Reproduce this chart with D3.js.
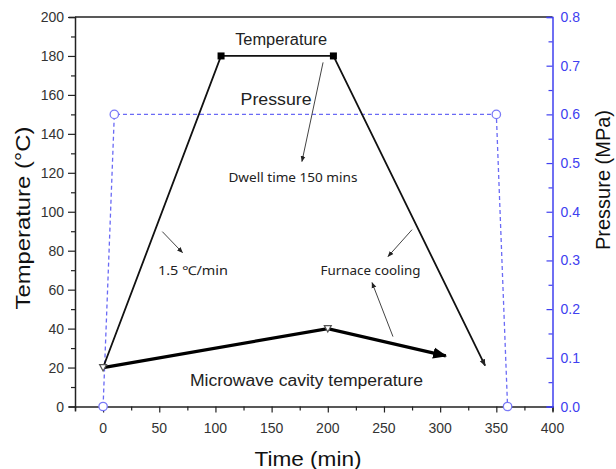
<!DOCTYPE html>
<html>
<head>
<meta charset="utf-8">
<script src="https://cdn.jsdelivr.net/npm/d3@7"></script>
<style>
  body { margin: 0; background: #fff; }
  svg { display: block; font-family: "Liberation Sans", Arial, sans-serif; }
</style>
</head>
<body>
<div id="chart"></div>
<script>
// time (min) / temperature (°C) for the furnace profile
const tempTime = [0, 105, 205, 340];
const tempValue = [20, 180, 180, 21];
const tempMarked = [false, true, true, false];

// pressure profile (MPa)
const pressTime = [0, 10, 350, 360];
const pressValue = [0, 0.6, 0.6, 0];

// microwave cavity temperature
const cavityTime = [0, 200, 305];
const cavityValue = [20, 40, 26];
const cavityMarked = [true, true, false];

const xTicks = [0, 50, 100, 150, 200, 250, 300, 350, 400];
const yLeftTicks = [0, 20, 40, 60, 80, 100, 120, 140, 160, 180, 200];
const yRightTicks = [0, 0.1, 0.2, 0.3, 0.4, 0.5, 0.6, 0.7, 0.8];

// labels placed in data units (time, temperature)
const labels = [
  { text: "Temperature", t: 158.5, v: 185.5, kind: "big", len: 92 },
  { text: "Pressure", t: 154, v: 155, kind: "big", len: 71 },
  { text: "Microwave cavity temperature", t: 181, v: 10.6, kind: "big", len: 233 },
  { text: "Dwell time 150 mins", t: 169, v: 115.4, kind: "small", len: 129 },
  { text: "1.5 \u2103/min", t: 80, v: 67.7, kind: "small", len: 70 },
  { text: "Furnace cooling", t: 238, v: 67.7, kind: "small", len: 100 }
];
// thin pointer arrows: [from time, from temp, to time, to temp]
const pointers = [
  [195.8, 176.7, 177, 125.8],
  [52.7, 89.8, 70.7, 79],
  [275, 90.8, 253.6, 77],
  [258, 35.9, 239.4, 63.6]
];

const width = 616;
const height = 469;
const blue = "#4040f0";

const x = d3.scaleLinear().domain([-25, 400]).range([75, 552.5]);
const yL = d3.scaleLinear().domain([0, 200]).range([406.5, 17]);
const yR = d3.scaleLinear().domain([0, 0.8]).range([406.5, 17]);

const svg = d3.select("#chart").append("svg")
  .attr("width", width)
  .attr("height", height);

const defs = svg.append("defs");
function arrowDef(id, size, color) {
  defs.append("marker")
    .attr("id", id)
    .attr("viewBox", "0 -5 10 10")
    .attr("refX", 9)
    .attr("refY", 0)
    .attr("markerUnits", "userSpaceOnUse")
    .attr("markerWidth", size)
    .attr("markerHeight", size)
    .attr("orient", "auto")
    .append("path")
      .attr("d", "M0,-4L10,0L0,4Z")
      .attr("fill", color);
}
arrowDef("headBig", 14, "#000");
arrowDef("headMid", 7, "#222");
arrowDef("headSmall", 6, "#222");

// top frame line
svg.append("line")
  .attr("x1", x.range()[0]).attr("x2", x.range()[1])
  .attr("y1", yL.range()[1]).attr("y2", yL.range()[1])
  .attr("stroke", "#222").attr("stroke-width", 1.5);

// x axis
const xAxis = svg.append("g")
  .attr("transform", `translate(0,${yL(0)})`)
  .call(d3.axisBottom(x).tickValues(d3.range(-25, 401, 25)).tickSize(5).tickFormat(""));
xAxis.call(g => g.select(".domain").attr("stroke", "#222").attr("stroke-width", 1.5));
xAxis.selectAll(".tick line").attr("stroke", "#222").attr("stroke-width", 1.2)
  .attr("y2", d => xTicks.includes(d) ? 6 : 4);
svg.append("g").selectAll("text")
  .data(xTicks)
  .join("text")
    .attr("x", d => x(d))
    .attr("y", yL(0) + 26)
    .attr("text-anchor", "middle")
    .attr("font-size", 14)
    .attr("fill", "#333")
    .text(d => d);

// left axis
const yAxisL = svg.append("g")
  .attr("transform", `translate(${x(-25)},0)`)
  .call(d3.axisLeft(yL).tickValues(d3.range(0, 201, 10)).tickSize(6).tickFormat(""));
yAxisL.call(g => g.select(".domain").attr("stroke", "#222").attr("stroke-width", 1.5));
yAxisL.selectAll(".tick line").attr("stroke", "#222").attr("stroke-width", 1.2)
  .attr("x2", d => yLeftTicks.includes(d) ? -7 : -4);
svg.append("g").selectAll("text")
  .data(yLeftTicks)
  .join("text")
    .attr("x", x(-25) - 11)
    .attr("y", d => yL(d) + 5)
    .attr("text-anchor", "end")
    .attr("font-size", 14)
    .attr("fill", "#333")
    .text(d => d);

// right axis (ticks point inward)
const yAxisR = svg.append("g")
  .attr("transform", `translate(${x(400)},0)`)
  .call(d3.axisLeft(yR).tickValues(d3.range(0, 17).map(i => i * 0.05)).tickSize(6).tickFormat(""));
yAxisR.call(g => g.select(".domain").attr("stroke", blue).attr("stroke-width", 1.5));
yAxisR.selectAll(".tick line").attr("stroke", blue).attr("stroke-width", 1.2)
  .attr("x2", (d, i) => i % 2 === 0 ? -6 : -4);
svg.append("g").selectAll("text")
  .data(yRightTicks)
  .join("text")
    .attr("x", x(400) + 8)
    .attr("y", d => yR(d) + 5)
    .attr("font-size", 14)
    .attr("fill", blue)
    .text(d => d.toFixed(1));

// axis titles
svg.append("text")
  .attr("x", 308).attr("y", 466)
  .attr("text-anchor", "middle")
  .attr("font-size", 21)
  .attr("fill", "#111")
  .attr("textLength", 107).attr("lengthAdjust", "spacingAndGlyphs")
  .text("Time (min)");
svg.append("text")
  .attr("transform", `translate(30,${218}) rotate(-90)`)
  .attr("text-anchor", "middle")
  .attr("font-size", 21)
  .attr("fill", "#111")
  .attr("textLength", 183).attr("lengthAdjust", "spacingAndGlyphs")
  .text("Temperature (\u00B0C)");
svg.append("text")
  .attr("transform", `translate(610,${180}) rotate(-90)`)
  .attr("text-anchor", "middle")
  .attr("font-size", 20)
  .attr("fill", "#111")
  .attr("textLength", 140).attr("lengthAdjust", "spacingAndGlyphs")
  .text("Pressure (MPa)");

// pressure line
const pressData = pressTime.map((t, i) => ({ t, v: pressValue[i] }));
svg.append("path")
  .datum(pressData)
  .attr("fill", "none")
  .attr("stroke", "#6a6af5")
  .attr("stroke-width", 1.3)
  .attr("stroke-dasharray", "4,3")
  .attr("d", d3.line().x(d => x(d.t)).y(d => yR(d.v)));

// temperature line
const tempData = tempTime.map((t, i) => ({ t, v: tempValue[i], m: tempMarked[i] }));
svg.append("path")
  .datum(tempData)
  .attr("fill", "none")
  .attr("stroke", "#111")
  .attr("stroke-width", 1.8)
  .attr("marker-end", "url(#headMid)")
  .attr("d", d3.line().x(d => x(d.t)).y(d => yL(d.v)));
svg.append("g").selectAll("rect")
  .data(tempData.filter(d => d.m))
  .join("rect")
    .attr("x", d => x(d.t) - 3.5)
    .attr("y", d => yL(d.v) - 3.5)
    .attr("width", 7)
    .attr("height", 7)
    .attr("fill", "#000");

// microwave cavity line
const cavityData = cavityTime.map((t, i) => ({ t, v: cavityValue[i], m: cavityMarked[i] }));
svg.append("path")
  .datum(cavityData)
  .attr("fill", "none")
  .attr("stroke", "#000")
  .attr("stroke-width", 3.2)
  .attr("marker-end", "url(#headBig)")
  .attr("d", d3.line().x(d => x(d.t)).y(d => yL(d.v)));
svg.append("g").selectAll("path")
  .data(cavityData.filter(d => d.m))
  .join("path")
    .attr("transform", d => `translate(${x(d.t)},${yL(d.v)})`)
    .attr("d", "M-3.5,-3L3.5,-3L0,3.5Z")
    .attr("fill", "#fff")
    .attr("stroke", "#555")
    .attr("stroke-width", 1.2);

// pressure markers
svg.append("g").selectAll("circle")
  .data(pressData)
  .join("circle")
    .attr("cx", d => x(d.t))
    .attr("cy", d => yR(d.v))
    .attr("r", 4.2)
    .attr("fill", "#fff")
    .attr("stroke", "#7a7af7")
    .attr("stroke-width", 1.3);

// pointer arrows
svg.append("g").selectAll("line")
  .data(pointers)
  .join("line")
    .attr("x1", d => x(d[0]))
    .attr("y1", d => yL(d[1]))
    .attr("x2", d => x(d[2]))
    .attr("y2", d => yL(d[3]))
    .attr("stroke", "#444")
    .attr("stroke-width", 1)
    .attr("marker-end", "url(#headSmall)");

// text labels
svg.append("g").selectAll("text")
  .data(labels)
  .join("text")
    .attr("x", d => x(d.t))
    .attr("y", d => yL(d.v))
    .attr("text-anchor", "middle")
    .attr("font-family", d => d.kind === "big" ? "Liberation Sans, Arial, sans-serif" : "Noto Sans, Open Sans, sans-serif")
    .attr("font-size", d => d.kind === "big" ? 16 : 12)
    .attr("fill", "#222")
    .attr("textLength", d => d.len)
    .attr("lengthAdjust", "spacingAndGlyphs")
    .text(d => d.text);
</script>
</body>
</html>
